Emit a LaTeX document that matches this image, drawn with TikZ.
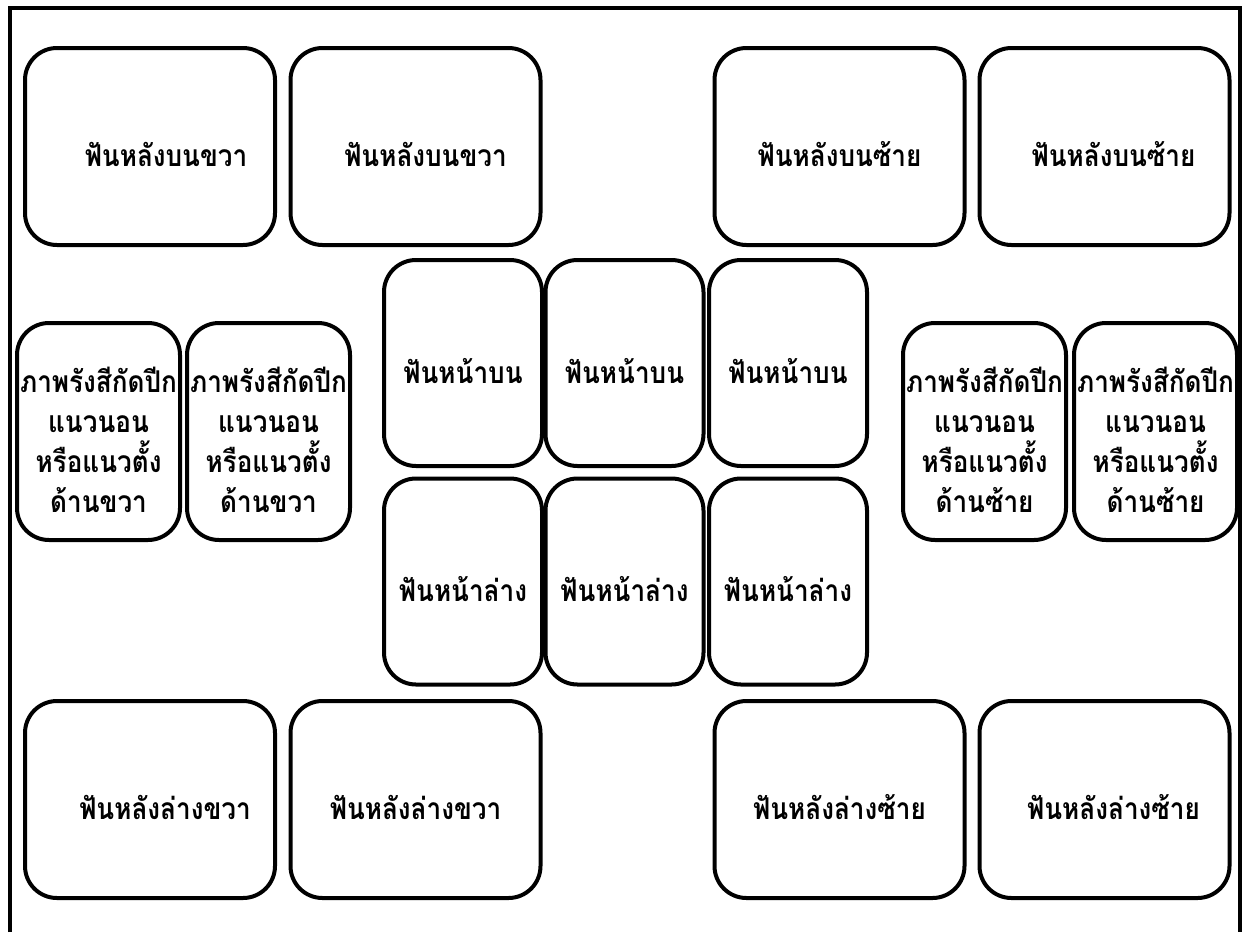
\documentclass[tikz,border=0pt]{standalone}
\usepackage{fontspec}
\newfontfamily\thaifont[Script=Thai,FakeStretch=0.87]{Loma}
\begin{document}
\begin{tikzpicture}[x=0.5pt,y=-0.5pt,
  tbox/.style={draw, line width=2pt, rounded corners=16pt, inner sep=0pt},
  lbl/.style={font=\thaifont\bfseries\fontsize{15}{20}\selectfont, align=center, inner sep=0pt, yshift=-4pt},
  bigbox/.style={tbox, minimum width=125pt, minimum height=98.5pt},
  sidebox/.style={tbox, minimum width=81.5pt, minimum height=108.5pt},
  midbox/.style={tbox, minimum width=79pt, minimum height=103pt},
  frame/.style={line width=2pt}]
\useasboundingbox (0,0) rectangle (1247,932);
\draw[frame] (10,932) -- (10,8) -- (1240,8) -- (1240,932);
% top row
\node[bigbox, label={[lbl, xshift=8pt]center:ฟันหลังบนขวา}] (tr1) at (150,146.5) {};
\node[bigbox, label={[lbl, xshift=5pt]center:ฟันหลังบนขวา}] (tr2) at (415.5,146.5) {};
\node[bigbox, label={[lbl]center:ฟันหลังบนซ้าย}] (tl1) at (839.5,146.5) {};
\node[bigbox, label={[lbl, xshift=4.5pt]center:ฟันหลังบนซ้าย}] (tl2) at (1104.5,146.5) {};
% side boxes
\node[sidebox, label={[lbl]center:ภาพรังสีกัดปีก\\แนวนอน\\หรือแนวตั้ง\\ด้านขวา}] (sr1) at (98.5,431.5) {};
\node[sidebox, label={[lbl]center:ภาพรังสีกัดปีก\\แนวนอน\\หรือแนวตั้ง\\ด้านขวา}] (sr2) at (268.5,431.5) {};
\node[sidebox, label={[lbl]center:ภาพรังสีกัดปีก\\แนวนอน\\หรือแนวตั้ง\\ด้านซ้าย}] (sl1) at (984.5,431.5) {};
\node[sidebox, label={[lbl]center:ภาพรังสีกัดปีก\\แนวนอน\\หรือแนวตั้ง\\ด้านซ้าย}] (sl2) at (1155.5,431.5) {};
% centre
\node[midbox, label={[lbl]center:ฟันหน้าบน}] (u1) at (463,363) {};
\node[midbox, label={[lbl]center:ฟันหน้าบน}] (u2) at (624.5,363) {};
\node[midbox, label={[lbl]center:ฟันหน้าบน}] (u3) at (788,363) {};
\node[midbox, label={[lbl]center:ฟันหน้าล่าง}] (l1) at (463,581.5) {};
\node[midbox, label={[lbl]center:ฟันหน้าล่าง}] (l2) at (624.5,581.5) {};
\node[midbox, label={[lbl]center:ฟันหน้าล่าง}] (l3) at (788,581.5) {};
% bottom row
\node[bigbox, label={[lbl, xshift=7.5pt]center:ฟันหลังล่างขวา}] (br1) at (150,799.5) {};
\node[bigbox, label={[lbl]center:ฟันหลังล่างขวา}] (br2) at (415.5,799.5) {};
\node[bigbox, label={[lbl]center:ฟันหลังล่างซ้าย}] (bl1) at (839.5,799.5) {};
\node[bigbox, label={[lbl, xshift=4.5pt]center:ฟันหลังล่างซ้าย}] (bl2) at (1104.5,799.5) {};
\end{tikzpicture}
\end{document}
